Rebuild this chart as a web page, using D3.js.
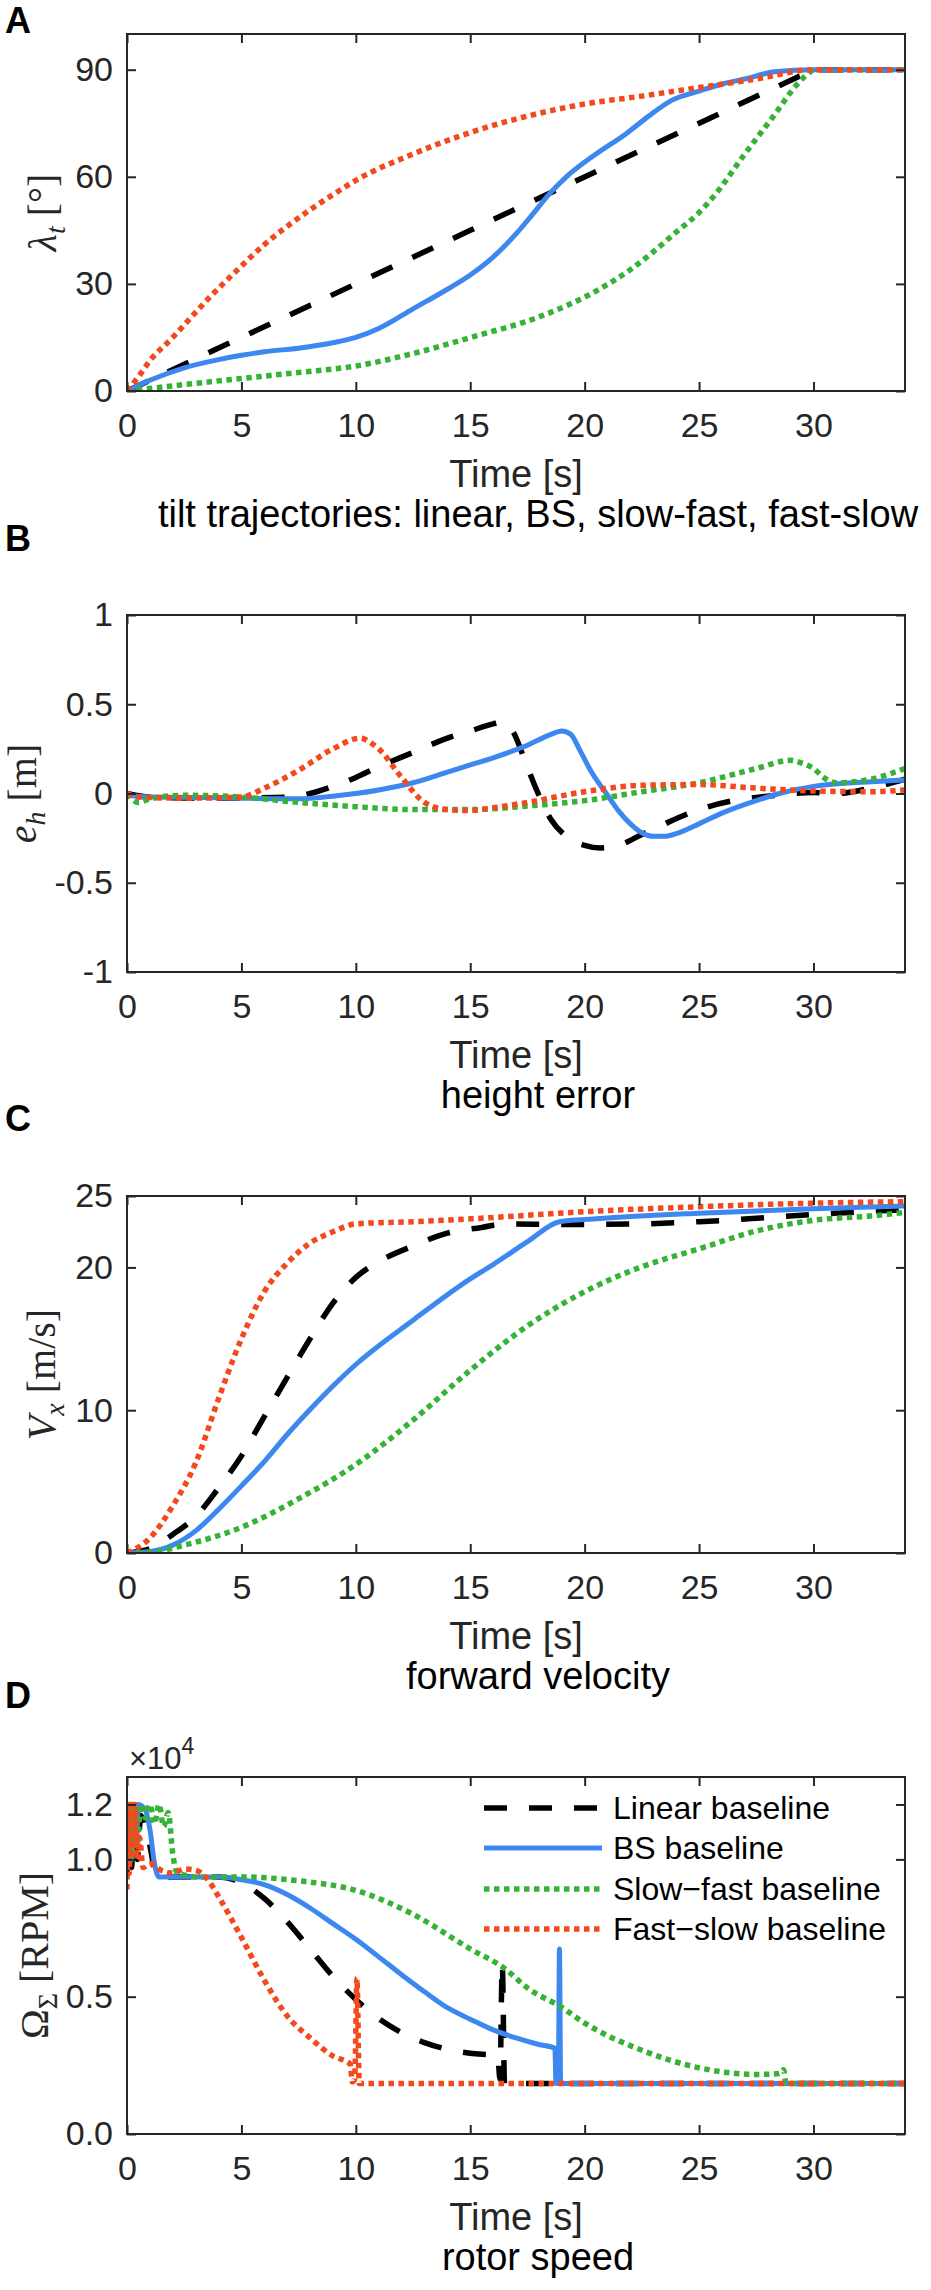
<!DOCTYPE html>
<html>
<head>
<meta charset="utf-8">
<script src="https://cdn.jsdelivr.net/npm/d3@7"></script>
<style>
  body { margin: 0; background: #fff; }
  svg text { font-family: "Liberation Sans", Arial, Helvetica, sans-serif; fill: #262626; }
</style>
</head>
<body>
<svg id="fig" width="931" height="2290"></svg>
<script>
// ---- data: [time (s), value] ----
const xTicks = [0, 5, 10, 15, 20, 25, 30];
const seriesNames = ["Linear baseline", "BS baseline", "Slow\u2212fast baseline", "Fast\u2212slow baseline"];

// A: tilt angle (deg)
const tiltLinear = [[0,0],[15,45],[29.9,89.7],[30,90],[34,90]];
const tiltBS = [[0,0],[1,3],[2.5,6.5],[4,8.8],[5,10],[6,11],[7.5,12],[9,13.5],[10,15],[11,17.5],[12.5,23],[14,28.5],[15,32.5],[16,37.5],[17,44],[17.6,48.5],[18.5,55.5],[19.2,60],[20.5,66.4],[21.8,72],[22.8,77],[23.8,81.4],[25,84],[26,86],[27,87.4],[28.3,89.4],[30,90],[34,90]];
const tiltSlowFast = [[0,0],[2.5,1.8],[5,3.5],[7.5,5.2],[10,7],[12.5,10.5],[15.3,15.5],[17.9,20.5],[20.5,28],[22,34],[23,39],[24,44.5],[25,50],[25.7,55],[27,66.4],[28.3,77.4],[29.3,86],[29.9,89.6],[30,90],[34,90]];
const tiltFastSlow = [[0,0],[0.5,4],[1,8.5],[2,15],[2.5,18.5],[3.5,25.5],[5,35],[6,41],[7.5,48.5],[9,55],[10,59],[12.5,66.4],[15,72.4],[17.5,77],[20,80.4],[22.5,82.6],[25,85],[27.5,87.4],[30,90],[34,90]];

// B: height error (m)
const heightLinear = [[0,0],[1,-0.02],[3,-0.025],[5,-0.025],[7,-0.02],[8,0],[9,0.04],[10,0.09],[11,0.15],[12.5,0.23],[14,0.31],[15,0.35],[16,0.39],[16.4,0.40],[16.9,0.34],[17.4,0.18],[17.9,0.02],[18.5,-0.14],[19.2,-0.24],[20,-0.29],[20.7,-0.305],[21.5,-0.29],[22.5,-0.23],[23.5,-0.17],[25,-0.09],[26.5,-0.04],[28,-0.015],[30,0.005],[31,0.0],[32.5,0.03],[34,0.08]];
const heightBS = [[0,-0.01],[1,-0.02],[3,-0.022],[5,-0.026],[7.5,-0.03],[9,-0.015],[10,0],[11,0.02],[12.5,0.06],[14,0.12],[15,0.16],[16,0.2],[17.5,0.27],[18.5,0.33],[19,0.35],[19.4,0.33],[19.8,0.24],[20.3,0.12],[21,-0.01],[21.5,-0.1],[22,-0.17],[22.5,-0.22],[23,-0.24],[23.5,-0.24],[24,-0.225],[25,-0.17],[26,-0.11],[27.5,-0.04],[28.5,0.0],[30,0.04],[32.5,0.066],[34,0.076]];
const heightSlowFast = [[0,0],[0.5,-0.05],[1,-0.03],[2.5,-0.01],[5,-0.02],[7.5,-0.05],[10,-0.074],[12.5,-0.09],[15,-0.09],[17.5,-0.07],[20,-0.04],[22.5,0.01],[25,0.06],[27.5,0.14],[29,0.186],[29.5,0.17],[30,0.14],[30.5,0.085],[31,0.06],[32.5,0.08],[34,0.14]];
const heightFastSlow = [[0,0],[0.5,-0.02],[2.5,-0.026],[5,-0.02],[6,0.03],[7.5,0.13],[9,0.25],[10.2,0.31],[10.7,0.28],[11,0.25],[12,0.09],[13,-0.05],[14,-0.09],[15,-0.096],[16,-0.08],[17.5,-0.05],[20,0.01],[22.5,0.046],[25,0.05],[27.5,0.03],[30,0.014],[32.5,0.01],[34,0.02]];

// C: forward velocity (m/s)
const velLinear = [[0,0],[1,0.3],[2,1.3],[3,2.55],[4,4.55],[5,6.8],[6,9.55],[7,12.3],[8,15],[9,17.5],[10,19.3],[11,20.4],[12.5,21.5],[14,22.4],[15.5,22.8],[16.5,23.05],[19,23.0],[22.5,23.05],[25,23.2],[30,23.7],[34,24.05]];
const velBS = [[0,0],[1,0.1],[2,0.55],[3,1.55],[4,3.05],[5,4.7],[6,6.4],[7,8.3],[8,10.05],[9,11.7],[10,13.2],[12.5,16.3],[15,19.2],[16,20.2],[17.5,21.8],[18.9,23.2],[20,23.35],[25,23.8],[30,24.1],[34,24.3]];
const velSlowFast = [[0,0],[1,0.05],[2.5,0.55],[5,1.8],[7.5,3.8],[10,6.2],[12.5,9.3],[15,12.8],[17.5,15.9],[20,18.3],[22.5,20.05],[25,21.3],[27.5,22.55],[30,23.3],[32.5,23.6],[34,23.85]];
const velFastSlow = [[0,0],[1,1.05],[2,3.3],[3,6.3],[4,10.8],[5,15],[6,18.3],[7,20.3],[8,21.7],[9,22.5],[10,23.05],[12.5,23.2],[15,23.4],[20,23.9],[25,24.25],[30,24.5],[34,24.6]];

// D: rotor speed (x10^4 RPM)
const rpmLinear = [[0,0.95],[0.1,1.15],[0.2,0.97],[0.3,1.15],[0.45,1.0],[0.6,1.16],[0.8,1.12],[1.0,1.05],[1.3,0.936],[2,0.936],[4,0.936],[5,0.915],[6,0.858],[7,0.773],[8,0.674],[9,0.574],[10,0.49],[11,0.42],[12,0.369],[13,0.333],[14,0.308],[15,0.294],[16.2,0.285],[16.3,0.2],[16.4,0.62],[16.5,0.184],[34,0.184]];
const rpmBS = [[0,0.97],[0.1,1.2],[0.2,1.0],[0.3,1.2],[0.4,1.05],[0.5,1.2],[0.8,1.18],[1.0,1.11],[1.2,0.985],[1.4,0.936],[4,0.936],[5,0.926],[6,0.908],[7,0.872],[8,0.823],[9,0.766],[10,0.709],[11,0.645],[12,0.58],[13,0.518],[14,0.46],[15,0.418],[16,0.379],[17,0.35],[18,0.326],[18.7,0.312],[18.75,0.184],[18.85,0.184],[18.9,0.674],[18.95,0.184],[34,0.184]];
const rpmSlowFast = [[0,1.0],[0.1,1.2],[0.2,1.0],[0.3,1.2],[0.45,1.05],[0.6,1.2],[0.8,1.15],[1.0,1.2],[1.2,1.13],[1.4,1.2],[1.6,1.12],[1.8,1.17],[2.0,1.02],[2.2,0.95],[2.5,0.943],[3,0.936],[5,0.936],[7.5,0.922],[10,0.887],[12.5,0.80],[15,0.674],[16.5,0.603],[17.5,0.532],[19,0.461],[20,0.404],[22.5,0.305],[25,0.241],[27.5,0.217],[28.5,0.22],[28.7,0.234],[28.8,0.184],[34,0.184]];
const rpmFastSlow = [[0,0.89],[0.05,1.2],[0.1,0.95],[0.15,1.2],[0.2,1.0],[0.25,1.2],[0.3,1.05],[0.35,1.2],[0.45,1.0],[0.55,1.08],[0.7,0.97],[1,0.985],[1.5,0.96],[2,0.95],[2.5,0.965],[3,0.96],[3.5,0.93],[4,0.865],[5,0.716],[6,0.56],[7,0.43],[8,0.35],[9,0.284],[9.75,0.255],[9.85,0.19],[9.95,0.2],[10.05,0.567],[10.15,0.184],[34,0.184]];

// ---- styling ----
const styles = [
  { color: "#000000", width: 5.5, dash: "23,22" },
  { color: "#3d87f0", width: 5,   dash: null },
  { color: "#36b336", width: 5.5, dash: "5.5,4.5" },
  { color: "#f24a1e", width: 5.5, dash: "5.5,4.5" }
];

const plotLeft = 127, plotRight = 905, plotH = 357;
const serif = '"Liberation Serif", "DejaVu Serif", serif';

const panels = [
  { id: "A", top: 34, labelY: 20, yDomain: [0, 100], yTicks: [0, 30, 60, 90], fmt: d3.format("d"),
    series: [tiltLinear, tiltBS, tiltSlowFast, tiltFastSlow],
    caption: "tilt trajectories: linear, BS, slow-fast, fast-slow",
    ylab: { base: 56, parts: [["\u03bb", "italic", 0, 40], ["t", "italic", 9, 28], [" [\u00b0]", "normal", -9, 40]] } },
  { id: "B", top: 615, labelY: 538, yDomain: [-1, 1], yTicks: [-1, -0.5, 0, 0.5, 1], fmt: d => String(d),
    series: [heightLinear, heightBS, heightSlowFast, heightFastSlow],
    caption: "height error",
    ylab: { base: 36, parts: [["e", "italic", 0, 40], ["h", "italic", 9, 28], [" [m]", "normal", -9, 40]] } },
  { id: "C", top: 1196, labelY: 1118, yDomain: [0, 25], yTicks: [0, 10, 20, 25], fmt: d3.format("d"),
    series: [velLinear, velBS, velSlowFast, velFastSlow],
    caption: "forward velocity",
    ylab: { base: 55, parts: [["V", "italic", 0, 40], ["x", "italic", 9, 28], [" [m/s]", "normal", -9, 40]] } },
  { id: "D", top: 1777, labelY: 1695, yDomain: [0, 1.3], yTicks: [0, 0.5, 1.0, 1.2], fmt: d3.format(".1f"),
    series: [rpmLinear, rpmBS, rpmSlowFast, rpmFastSlow],
    caption: "rotor speed", legend: true, exponent: true,
    ylab: { base: 48, parts: [["\u03a9", "normal", 0, 40], ["\u03a3", "normal", 9, 28], [" [RPM]", "normal", -9, 40]] } }
];

const svg = d3.select("#fig");
const x = d3.scaleLinear().domain([0, 34]).range([plotLeft, plotRight]);

panels.forEach(p => {
  const bottom = p.top + plotH;
  const y = d3.scaleLinear().domain(p.yDomain).range([bottom, p.top]);
  const g = svg.append("g");

  // clip so the thick lines stay inside the box
  const clipId = "clip" + p.id;
  svg.append("clipPath").attr("id", clipId)
    .append("rect").attr("x", plotLeft).attr("y", p.top)
    .attr("width", plotRight - plotLeft).attr("height", plotH);

  // lines
  const line = d3.line().x(d => x(d[0])).y(d => y(d[1])).curve(d3.curveMonotoneX);
  const lines = g.append("g").attr("clip-path", `url(#${clipId})`);
  p.series.forEach((s, i) => {
    lines.append("path")
      .attr("d", line(s))
      .attr("fill", "none")
      .attr("stroke", styles[i].color)
      .attr("stroke-width", styles[i].width)
      .attr("stroke-dasharray", styles[i].dash)
      .attr("stroke-linejoin", "round");
  });

  // axes, inward ticks on all four sides
  const axisStyle = sel => {
    sel.select(".domain").remove();
    sel.selectAll(".tick line").attr("stroke", "#262626").attr("stroke-width", 2);
    sel.selectAll(".tick text").attr("fill", "#262626").attr("font-family", null).style("font-size", "34px");
  };
  g.append("g").attr("transform", `translate(0,${bottom})`)
    .call(d3.axisBottom(x).tickValues(xTicks).tickSizeInner(-9).tickPadding(22).tickFormat(d3.format("d")))
    .call(axisStyle);
  g.append("g").attr("transform", `translate(0,${p.top})`)
    .call(d3.axisTop(x).tickValues(xTicks).tickSizeInner(-9).tickFormat(""))
    .call(axisStyle);
  g.append("g").attr("transform", `translate(${plotLeft},0)`)
    .call(d3.axisLeft(y).tickValues(p.yTicks).tickSizeInner(-9).tickPadding(14).tickFormat(p.fmt))
    .call(axisStyle);
  g.append("g").attr("transform", `translate(${plotRight},0)`)
    .call(d3.axisRight(y).tickValues(p.yTicks).tickSizeInner(-9).tickFormat(""))
    .call(axisStyle);

  g.append("rect")
    .attr("x", plotLeft).attr("y", p.top)
    .attr("width", plotRight - plotLeft).attr("height", plotH)
    .attr("fill", "none").attr("stroke", "#262626").attr("stroke-width", 2);

  // x label and caption
  g.append("text").attr("x", (plotLeft + plotRight) / 2).attr("y", bottom + 96)
    .attr("text-anchor", "middle").style("font-size", "38px").text("Time [s]");
  g.append("text").attr("x", 538).attr("y", bottom + 136)
    .attr("text-anchor", "middle").style("font-size", "38px").style("fill", "#000").text(p.caption);

  // y label (rotated, TeX-like)
  const yl = g.append("text")
    .attr("transform", `translate(${p.ylab.base},${(p.top + bottom) / 2}) rotate(-90)`)
    .attr("text-anchor", "middle")
    .style("font-family", serif).style("fill", "#262626");
  p.ylab.parts.forEach(([t, st, dy, fs]) => {
    yl.append("tspan").attr("dy", dy).style("font-style", st).style("font-size", fs + "px").text(t);
  });

  // panel letter
  svg.append("text").attr("x", 5).attr("y", p.labelY + 13)
    .style("font-size", "36px").style("font-weight", "bold").style("fill", "#000").text(p.id);

  if (p.exponent) {
    const ex = g.append("text").attr("x", 129).attr("y", p.top - 8).style("font-size", "31px");
    ex.append("tspan").text("\u00d710");
    ex.append("tspan").attr("dy", -15).style("font-size", "23px").text("4");
  }

  if (p.legend) {
    const rowY = [1808, 1848, 1889, 1929];
    const lg = g.append("g");
    seriesNames.forEach((name, i) => {
      lg.append("line").attr("x1", 484).attr("x2", 602).attr("y1", rowY[i]).attr("y2", rowY[i])
        .attr("stroke", styles[i].color).attr("stroke-width", styles[i].width)
        .attr("stroke-dasharray", styles[i].dash);
      lg.append("text").attr("x", 613).attr("y", rowY[i] + 11)
        .style("font-size", "32px").style("fill", "#000").text(name);
    });
  }
});
</script>
</body>
</html>
